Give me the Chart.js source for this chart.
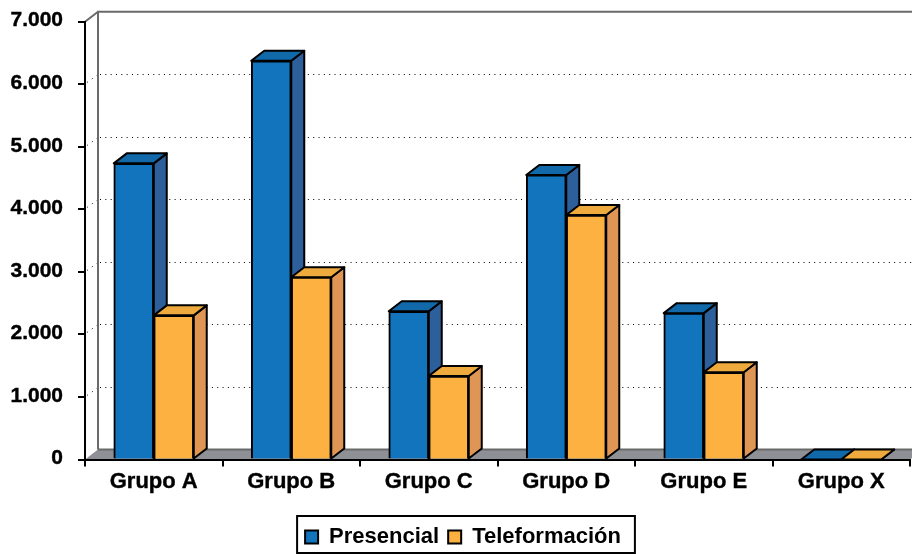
<!DOCTYPE html>
<html>
<head>
<meta charset="utf-8">
<style>
  html, body { margin: 0; padding: 0; background: #fff; }
  canvas { display: block; }
</style>
<script src="https://cdn.jsdelivr.net/npm/chart.js@4"></script>
</head>
<body>
<canvas id="chart" width="912" height="554"></canvas>
<script>
const categories = ["Grupo A", "Grupo B", "Grupo C", "Grupo D", "Grupo E", "Grupo X"];
const presencial = [4735, 6375, 2370, 4550, 2340, 0];
const teleformacion = [2305, 2915, 1335, 3910, 1395, 0];
const yTicks = ["0", "1.000", "2.000", "3.000", "4.000", "5.000", "6.000", "7.000"];

const depthX = 13;
const wallY = 10;
const barY = 10;

function poly(ctx, pts, fill, stroke, width) {
  ctx.beginPath();
  pts.forEach((p, i) => (i ? ctx.lineTo(p[0], p[1]) : ctx.moveTo(p[0], p[1])));
  ctx.closePath();
  if (fill) {
    ctx.fillStyle = fill;
    ctx.fill();
  }
  if (stroke) {
    ctx.strokeStyle = stroke;
    ctx.lineWidth = width;
    ctx.stroke();
  }
}

// walls, floor and dotted grid behind the bars
const walls = {
  id: "walls",
  beforeDraw(chart) {
    const { ctx, chartArea, scales } = chart;
    const { left, right, bottom, top } = chartArea;
    ctx.save();
    poly(ctx, [[left, bottom], [left + depthX, bottom - wallY], [right + depthX, bottom - wallY], [right, bottom]], "#8e9095");
    ctx.strokeStyle = "#000";
    ctx.lineWidth = 1;
    yTicks.forEach((t, i) => {
      if (i === 0 || i === yTicks.length - 1) return;
      const y = Math.round(scales.y.getPixelForValue(i * 1000)) + 0.5;
      ctx.setLineDash([1, 4.33]);
      ctx.beginPath();
      ctx.moveTo(left + depthX + 2, y - wallY);
      ctx.lineTo(right + depthX, y - wallY);
      ctx.stroke();
      ctx.setLineDash([1, 5]);
      ctx.beginPath();
      ctx.moveTo(left + 2, y - 2);
      ctx.lineTo(left + depthX, y - wallY);
      ctx.stroke();
    });
    ctx.setLineDash([]);
    ctx.strokeStyle = "#6a6a6a";
    ctx.lineWidth = 2;
    ctx.beginPath();
    ctx.moveTo(left + depthX, bottom - wallY);
    ctx.lineTo(left + depthX, top - wallY);
    ctx.lineTo(right + depthX, top - wallY);
    ctx.moveTo(left, top);
    ctx.lineTo(left + depthX, top - wallY);
    ctx.moveTo(left + depthX, bottom - wallY);
    ctx.lineTo(right + depthX, bottom - wallY);
    ctx.stroke();
    ctx.restore();
  },
  beforeDatasetsDraw(chart) {
    const ctx = chart.ctx;
    const faces = [
      { top: "#1169a9", side: "#2d5f9b" },
      { top: "#eeaa3c", side: "#df9554" },
    ];
    ctx.save();
    ctx.lineJoin = "round";
    [0, 1].forEach((d) => {
      chart.getDatasetMeta(d).data.forEach((bar) => {
        const l = bar.x - bar.width / 2;
        const r = bar.x + bar.width / 2;
        const t = bar.y;
        const b = bar.base;
        poly(ctx, [[r, t], [r + depthX, t - barY], [r + depthX, b - barY], [r, b]], faces[d].side, "#000", 2);
        poly(ctx, [[l, t], [l + depthX, t - barY], [r + depthX, t - barY], [r, t]], faces[d].top, "#000", 2);
        bar.draw(ctx);
      });
    });
    ctx.restore();
    return false;
  },
  afterLayout(chart) {
    chart.legend.left += 8;
    chart.legend.right += 8;
    chart.legend.top += 5;
    chart.legend.bottom += 5;
  },
  afterDraw(chart) {
    const { ctx, legend } = chart;
    const box = legend.legendHitBoxes;
    const l = box[0].left - 8;
    const r = box[box.length - 1].left + box[box.length - 1].width + 14;
    ctx.save();
    ctx.strokeStyle = "#000";
    ctx.lineWidth = 2;
    ctx.strokeRect(l, 516, r - l, 37);
    ctx.restore();
  },
};

new Chart(document.getElementById("chart"), {
  type: "bar",
  data: {
    labels: categories,
    datasets: [
      { label: "Presencial", data: presencial, backgroundColor: "#1174bc", borderColor: "#000", borderWidth: 2, barThickness: 40 },
      { label: "Teleformación", data: teleformacion, backgroundColor: "#fdb141", borderColor: "#000", borderWidth: 2, barThickness: 40 },
    ],
  },
  options: {
    responsive: false,
    animation: false,
    layout: { padding: { top: 21.7, right: 2, bottom: 1 } },
    scales: {
      x: {
        afterFit: (scale) => { scale.height = 52.5; },
        border: { color: "#000", width: 2 },
        grid: { drawOnChartArea: false, color: "#000", tickLength: 7, lineWidth: 2 },
        ticks: {
          color: "#000",
          padding: 2,
          maxRotation: 0,
          textStrokeColor: "#000",
          textStrokeWidth: 0.4,
          font: { family: "Liberation Sans", size: 22, weight: "bold" },
        },
      },
      y: {
        min: 0,
        max: 7000,
        afterFit: (scale) => {
          scale.width = 85;
          scale.paddingTop = 0;
          scale.paddingBottom = 0;
        },
        border: { color: "#000", width: 2 },
        grid: { drawOnChartArea: false, color: "#000", tickLength: 7, lineWidth: 2 },
        ticks: {
          stepSize: 1000,
          color: "#000",
          padding: 15,
          labelOffset: -1,
          textStrokeColor: "#000",
          textStrokeWidth: 0.4,
          font: { family: "Liberation Sans", size: 21, weight: "bold" },
          callback: (v) => yTicks[v / 1000],
        },
      },
    },
    plugins: {
      tooltip: { enabled: false },
      legend: {
        position: "bottom",
        labels: {
          color: "#000",
          boxWidth: 13,
          boxHeight: 13,
          padding: 9,
          font: { family: "Liberation Sans", size: 22, weight: "bold" },
        },
      },
    },
  },
  plugins: [walls],
});
</script>
</body>
</html>
